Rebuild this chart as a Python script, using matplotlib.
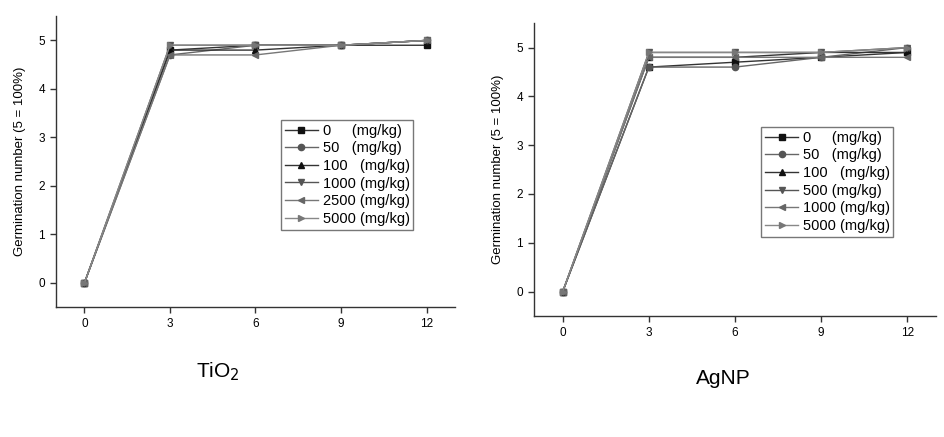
import matplotlib.pyplot as plt

plt.rcParams['font.family'] = ['Liberation Sans', 'DejaVu Sans']

days = [0, 3, 6, 9, 12]

# TiO2 germination (5 = 100%)
tio2_labels = ['0     (mg/kg)', '50   (mg/kg)', '100   (mg/kg)',
               '1000 (mg/kg)', '2500 (mg/kg)', '5000 (mg/kg)']
tio2_0 = [0, 4.8, 4.9, 4.9, 4.9]
tio2_50 = [0, 4.7, 4.9, 4.9, 5.0]
tio2_100 = [0, 4.8, 4.8, 4.9, 5.0]
tio2_1000 = [0, 4.9, 4.9, 4.9, 5.0]
tio2_2500 = [0, 4.7, 4.7, 4.9, 5.0]
tio2_5000 = [0, 4.9, 4.9, 4.9, 5.0]

# AgNP germination (5 = 100%)
agnp_labels = ['0     (mg/kg)', '50   (mg/kg)', '100   (mg/kg)',
               '500 (mg/kg)', '1000 (mg/kg)', '5000 (mg/kg)']
agnp_0 = [0, 4.6, 4.7, 4.8, 4.9]
agnp_50 = [0, 4.6, 4.6, 4.8, 5.0]
agnp_100 = [0, 4.8, 4.8, 4.9, 4.9]
agnp_500 = [0, 4.9, 4.9, 4.9, 5.0]
agnp_1000 = [0, 4.8, 4.8, 4.8, 4.8]
agnp_5000 = [0, 4.9, 4.9, 4.9, 5.0]

markers = ['s', 'o', '^', 'v', '<', '>']
mcolors = ['#111111', '#555555', '#111111', '#555555', '#666666', '#777777']
lcolors = ['#333333', '#666666', '#333333', '#555555', '#777777', '#888888']

fig = plt.figure(figsize=(9.44, 4.37), dpi=100)
ax1 = fig.add_axes([0.0593, 0.2975, 0.4227, 0.6655])
ax2 = fig.add_axes([0.5657, 0.2769, 0.4258, 0.6701])


def draw(ax, series, labels, legend_xy):
    for s, lab, m, mc, lc in zip(series, labels, markers, mcolors, lcolors):
        ax.plot(days, s, marker=m, color=lc, markerfacecolor=mc,
                markeredgecolor=mc, markersize=4.5, linewidth=1, label=lab)
    ax.set_xlim(-1, 13)
    ax.set_ylim(-0.5, 5.5)
    ax.set_xticks(days)
    ax.set_yticks([0, 1, 2, 3, 4, 5])
    for side in ['top', 'right']:
        ax.spines[side].set_visible(False)
    for side in ['left', 'bottom']:
        ax.spines[side].set_color('#333333')
        ax.spines[side].set_linewidth(1)
    ax.tick_params(direction='out', length=4, width=1, labelsize=8.5,
                   colors='#333333', labelcolor='black', pad=4)
    ax.set_ylabel('Germination number (5 = 100%)', fontsize=9.5, labelpad=9)
    leg = ax.legend(loc='upper left', bbox_to_anchor=legend_xy, fontsize=10.5,
                    handlelength=2.3, handletextpad=0.3, labelspacing=0.25,
                    borderpad=0.25, fancybox=False, framealpha=1,
                    edgecolor='#777777', borderaxespad=0)
    leg.get_frame().set_linewidth(1)


draw(ax1, [tio2_0, tio2_50, tio2_100, tio2_1000, tio2_2500, tio2_5000],
     tio2_labels, (0.564, 0.643))
draw(ax2, [agnp_0, agnp_50, agnp_100, agnp_500, agnp_1000, agnp_5000],
     agnp_labels, (0.565, 0.645))

fig.text(218 / 944, 1 - 372 / 437, 'TiO$_2$', fontsize=15, ha='center', va='center')
fig.text(723 / 944, 1 - 378 / 437, 'AgNP', fontsize=15, ha='center', va='center')

fig.savefig('out.png', dpi=100)
